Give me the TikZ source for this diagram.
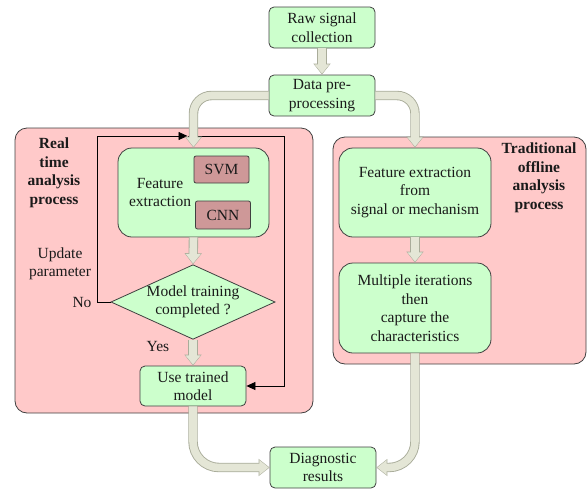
\documentclass[tikz,border=0pt]{standalone}
\usepackage{fontspec}
\setmainfont{Liberation Serif}
\usepackage{tikz}
\usetikzlibrary{arrows.meta,positioning,calc,shapes.geometric}
\definecolor{cText}{HTML}{1A1A1A}
\definecolor{cLine}{HTML}{404040}
\definecolor{cBox}{HTML}{CCFFCC}
\definecolor{cZone}{HTML}{FFC9C9}
\definecolor{cAlg}{HTML}{CE9898}
\definecolor{cPipe}{HTML}{E4E6D6}
\definecolor{cPipeEdge}{HTML}{A9AC9A}
\tikzset{
  blk/.style={draw=cLine, line width=0.8pt, rounded corners=5pt, fill=cBox,
              inner sep=0pt, align=center, text=cText},
  bigblk/.style={blk, rounded corners=14pt},
  algblk/.style={blk, fill=cAlg, rounded corners=2pt},
  dec/.style={diamond, draw=cLine, line width=0.8pt, fill=cBox, aspect=2.2,
              inner sep=0pt, align=center, text=cText},
  zone/.style={draw=cLine, line width=0.8pt, rounded corners=12pt, fill=cZone,
               inner sep=0pt},
  ttl/.style={font=\fontsize{15.5}{18.5}\selectfont\bfseries, align=center, text=cText},
  lbl/.style={align=center, text=cText},
  fbarr/.style={-{Triangle[length=9pt,width=8pt]}, line width=0.8pt, black},
  pipeout/.style={-{Triangle[length=11pt,width=16.5pt]}, line width=9.4pt, cPipeEdge},
  pipein/.style={-{Triangle[length=9.4pt,width=14.4pt]}, line width=7.6pt, cPipe,
                 shorten >=0.9pt}
}
\newcommand{\pipe}[2][]{\draw[pipeout,#1] #2; \draw[pipein,#1] #2;}

\begin{document}
\begin{tikzpicture}[x=1pt, y=-1pt, font=\fontsize{15.5}{18.5}\selectfont]
\useasboundingbox (0,0) rectangle (587,491);
% process zones
\node[zone, minimum width=298pt, minimum height=285pt] (rtzone) at (164,270.5) {};
\node[zone, minimum width=253pt, minimum height=227pt] (offzone) at (459.5,250.5) {};
\node[ttl] (rttitle) at (54,173) {Real\\time\\analysis\\process};
\node[ttl] (offtitle) at (539,178) {Traditional\\offline\\analysis\\process};
% common boxes
\node[blk, minimum width=106pt, minimum height=41pt] (raw) at (322,27.5) {Raw signal\\collection};
\node[blk, minimum width=106pt, minimum height=41pt] (data) at (322,95.5) {Data pre-\\processing};
\node[blk, minimum width=106pt, minimum height=41pt] (diag) at (323,467.5) {Diagnostic\\results};
% real time branch
\node[bigblk, minimum width=151pt, minimum height=89pt] (featl) at (193.5,192.5) {};
\node[lbl] (feattxt) at (160,192.5) {Feature\\extraction};
\node[algblk, minimum width=55pt, minimum height=27pt] (svm) at (221.5,169.5) {SVM};
\node[algblk, minimum width=55pt, minimum height=28pt] (cnn) at (223,215) {CNN};
\node[dec, minimum width=162pt, minimum height=73pt] (train) at (193,302) {Model training\\completed ?};
\node[blk, minimum width=106pt, minimum height=40pt] (use) at (193,386) {Use trained\\model};
\node[lbl] (upd) at (60,264) {Update\\parameter};
\node[lbl, anchor=east] (no) at (95,302) {No};
\node[lbl] (yes) at (158,346) {Yes};
% offline branch
\node[bigblk, minimum width=152pt, minimum height=89pt] (featr) at (415,192.5) {Feature extraction\\from\\signal or mechanism};
\node[bigblk, minimum width=152pt, minimum height=90pt] (multi) at (415,308) {Multiple iterations\\then\\capture the\\characteristics};
% update loop
\coordinate (fbl) at (97,136);
\coordinate (fbr) at (284,136);
\draw[fbarr] (train.west) -| (fbl) -- ([xshift=-6pt]featl.north |- fbl);
\draw[fbarr] ([xshift=-6pt]featl.north |- fbl) -- (fbr) |- (use.east);
% flow pipes
\pipe{(raw.south) -- (data.north)}
\pipe[rounded corners=18pt]{(data.west) -| (featl.north)}
\pipe[rounded corners=18pt]{(data.east) -| (featr.north)}
\pipe{(featl.south) -- (train.north)}
\pipe{(train.south) -- (use.north)}
\pipe{(featr.south) -- (multi.north)}
\pipe[rounded corners=26pt]{(use.south) |- (diag.west)}
\pipe[rounded corners=26pt]{(multi.south) |- (diag.east)}
\end{tikzpicture}
\end{document}
